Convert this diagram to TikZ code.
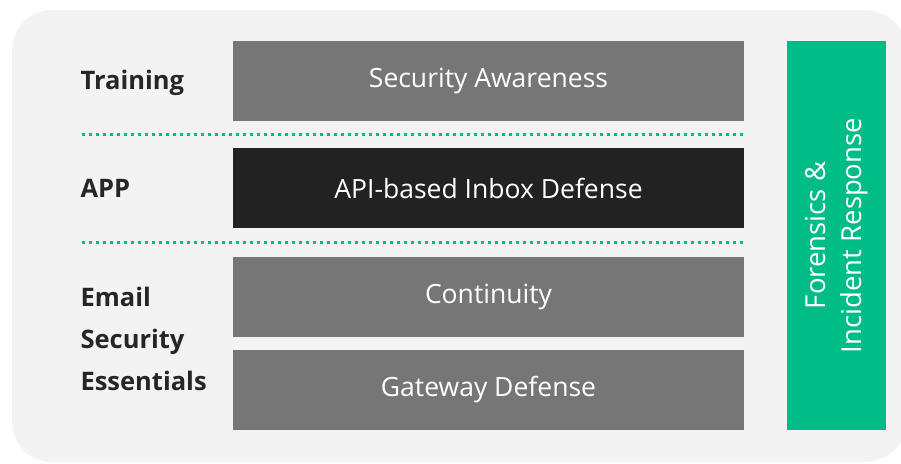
\documentclass[tikz,border=0pt]{standalone}
\usepackage{fontspec}
\setmainfont{Open Sans}
\definecolor{bggray}{HTML}{F3F3F3}
\definecolor{boxgray}{HTML}{767676}
\definecolor{boxdark}{HTML}{222222}
\definecolor{accgreen}{HTML}{00BC87}
\begin{document}
\begin{tikzpicture}[x=1pt,y=-1pt,
  layer/.style={draw=none,minimum width=511pt,minimum height=80pt,text=white,font=\fontsize{26.5}{30}\selectfont},
  lbl/.style={anchor=west,font=\fontsize{25.5}{30}\selectfont\bfseries,text=black!85},
  sep/.style={draw=accgreen,line width=3pt,dash pattern=on 3pt off 4pt}]
\useasboundingbox (0,0) rectangle (901,463);
\begin{scope}
\clip (0,0) rectangle (901,463);
\fill[bggray,rounded corners=40pt] (12,10) rectangle (906,462);
\end{scope}
\node[layer,fill=boxgray] (sa) at (488.5,81) {Security Awareness};
\node[layer,fill=boxdark] (api) at (488.5,188) {API-based Inbox Defense};
\node[layer,fill=boxgray] (cont) at (488.5,296.5) {Continuity};
\node[layer,fill=boxgray] (gw) at (488.5,390) {Gateway Defense};
\node[draw=none,fill=accgreen,minimum width=99pt,minimum height=389pt] (fr) at (836.5,235.5) {};
\node[rotate=90,text=white,align=center,font=\fontsize{27.5}{36}\selectfont] (frt) at (fr.center) {Forensics \&\\Incident Response};
\node[lbl] (ltr) at (77,83) {Training};
\node[lbl] (lapp) at (77,188) {APP};
\node[lbl,align=left,font=\fontsize{25.5}{42}\selectfont\bfseries] (lese) at (77,339) {Email\\Security\\Essentials};
\coordinate (d1a) at (82,134);
\coordinate (d1b) at (744,134);
\coordinate (d2a) at (82,242);
\coordinate (d2b) at (744,242);
\draw[sep] (d1a) -- (d1b);
\draw[sep] (d2a) -- (d2b);
\end{tikzpicture}
\end{document}
